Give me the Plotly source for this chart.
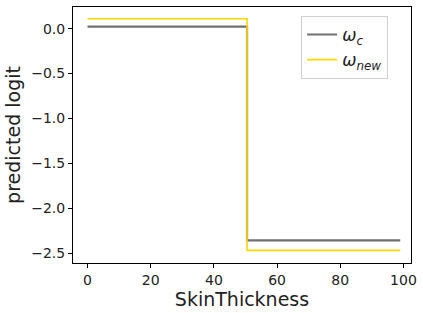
import plotly.graph_objects as go

x_vals = [0, 50, 51, 99]
omega_c = [0.022, 0.022, -2.36, -2.36]
omega_new = [0.11, 0.11, -2.47, -2.47]

fig = go.Figure()
fig.add_trace(go.Scatter(x=x_vals, y=omega_c, mode="lines", line_shape="hvh",
                         line=dict(color="#707070", width=2.2),
                         name="<i>ω</i><sub><i>c</i></sub>"))
fig.add_trace(go.Scatter(x=x_vals, y=omega_new, mode="lines", line_shape="hvh",
                         line=dict(color="#FFD700", width=1.6),
                         name="<i>ω</i><sub><i>new</i></sub>"))

axis_common = dict(showgrid=False, zeroline=False, showline=True, linecolor="black",
                   linewidth=1, mirror=True, ticks="outside", ticklen=4,
                   tickcolor="black", tickfont=dict(size=14, color="#222"))
fig.update_xaxes(range=[-4.6, 102.4], tickvals=[0, 20, 40, 60, 80, 100],
                 title=dict(text="SkinThickness", font=dict(size=19, color="#222"), standoff=3),
                 **axis_common)
fig.update_yaxes(range=[-2.611, 0.241], tickvals=[0, -0.5, -1.0, -1.5, -2.0, -2.5],
                 ticktext=["0.0", "−0.5", "−1.0", "−1.5", "−2.0", "−2.5"],
                 title=dict(text="predicted logit", font=dict(size=19, color="#222"), standoff=5),
                 **axis_common)
fig.update_layout(
    width=423, height=313,
    margin=dict(l=73, r=8, t=6, b=50),
    plot_bgcolor="white", paper_bgcolor="white",
    font=dict(family="DejaVu Sans", color="#222"),
    legend=dict(x=0.675, y=0.965, xanchor="left", yanchor="top",
                bordercolor="#d0d0d0", borderwidth=1, bgcolor="white",
                font=dict(size=17), itemwidth=30),
)
fig.write_html("out.html")
